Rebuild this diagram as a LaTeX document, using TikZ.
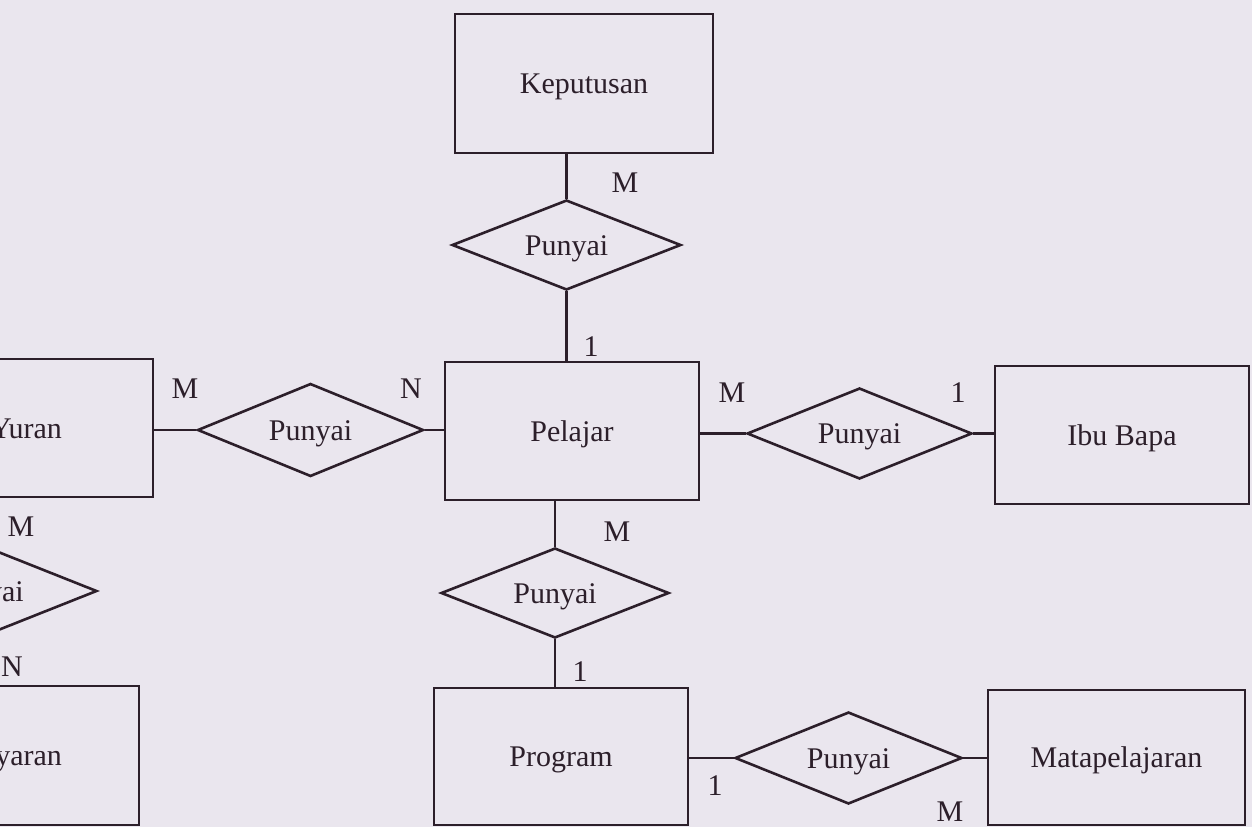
\documentclass[tikz,border=0pt]{standalone}
\usepackage{fontspec}
\setmainfont{Liberation Serif}
\usetikzlibrary{shapes.geometric}
\definecolor{paper}{HTML}{EAE6EE}
\definecolor{ink}{HTML}{2C1F2A}
\tikzset{
  base/.style={draw=ink, line width=2.6pt, text=ink,
    font=\fontsize{30}{36}\selectfont, text height=20pt, text depth=0pt, inner sep=0pt},
  entity/.style={base, rectangle, minimum width=254pt, minimum height=138pt},
  relation/.style={base, diamond, aspect=2.5, minimum width=226pt, minimum height=91pt},
  card/.style={text=ink, font=\fontsize{30}{36}\selectfont, inner sep=0pt},
  link/.style={draw=ink, line width=2.6pt}
}
\begin{document}
\begin{tikzpicture}[x=1pt, y=-1pt]
\useasboundingbox (0,0) rectangle (1252,827);
\fill[paper] (0,0) rectangle (1252,827);
\clip (0,0) rectangle (1252,827);

% entities
\node[entity, minimum width=258pt, minimum height=139pt] (kep) at (584,83.5) {Keputusan};
\node[entity] (pel) at (572,431) {Pelajar};
\node[entity] (ibu) at (1122,435) {Ibu Bapa};
\node[entity, minimum height=137pt] (prog) at (561,756.5) {Program};
\node[entity, minimum width=257pt, minimum height=135pt] (mata) at (1116.5,757.5) {Matapelajaran};
\node[entity] (yuran) at (26,428) {Yuran};
\node[entity, minimum height=139pt] (bayar) at (12,755.5) {Bayaran};

% relationships
\node[relation, minimum width=229pt, minimum height=90pt] (r1) at (566.5,245) {Punyai};
\node[relation, minimum height=93pt] (r2) at (310.5,430) {Punyai};
\node[relation, minimum width=225pt] (r3) at (859.5,433.5) {Punyai};
\node[relation, minimum width=228pt, minimum height=90pt] (r4) at (555,593) {Punyai};
\node[relation, minimum width=227pt, minimum height=92pt] (r5) at (848.5,758) {Punyai};
\node[relation, minimum width=230pt, minimum height=92pt] (r6) at (-18,591) {Punyai};

% connectors
\draw[link] (r1.north) -- (r1.north |- kep.south);
\draw[link] (r1.south) -- (r1.south |- pel.north);
\draw[link] (r2.west) -- (r2.west -| yuran.east);
\draw[link] (r2.east) -- (r2.east -| pel.west);
\draw[link] (r3.west) -- (r3.west -| pel.east);
\draw[link] (r3.east) -- (r3.east -| ibu.west);
\draw[link] (r4.north) -- (r4.north |- pel.south);
\draw[link] (r4.south) -- (r4.south |- prog.north);
\draw[link] (r5.west) -- (r5.west -| prog.east);
\draw[link] (r5.east) -- (r5.east -| mata.west);
\draw[link] (r6.north) -- (r6.north |- yuran.south);
\draw[link] (r6.south) -- (r6.south |- bayar.north);

% cardinalities
\node[card] (c1) at (625,183) {M};
\node[card] (c2) at (591,347) {1};
\node[card] (c3) at (185,389) {M};
\node[card] (c4) at (411,389) {N};
\node[card] (c5) at (732,393) {M};
\node[card] (c6) at (958,393) {1};
\node[card] (c7) at (617,532) {M};
\node[card] (c8) at (580,672) {1};
\node[card] (c9) at (715,786) {1};
\node[card] (c10) at (950,812) {M};
\node[card] (c11) at (21,527) {M};
\node[card] (c12) at (12,667) {N};
\end{tikzpicture}
\end{document}
